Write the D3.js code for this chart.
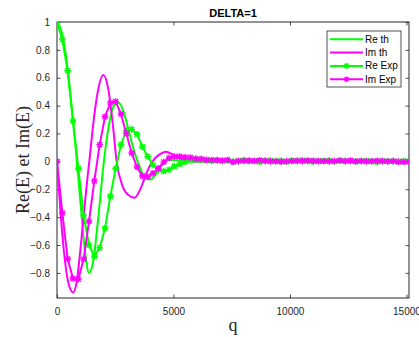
<!DOCTYPE html>
<html><head><meta charset="utf-8">
<script src="https://cdn.jsdelivr.net/npm/d3@7"></script>
<style>
html,body{margin:0;padding:0;background:#fff;}
svg{display:block;}
</style></head>
<body>
<script>
// ---- data ----
const titleText = "DELTA=1";
const xLabel = "q";
const yLabel = "Re(E) et Im(E)";
const seriesNames = ["Re th", "Im th", "Re Exp", "Im Exp"];
const xTicks = [0, 5000, 10000, 15000];
const yTicks = [-0.8, -0.6, -0.4, -0.2, 0, 0.2, 0.4, 0.6, 0.8, 1];

// theory curves (sampled points, smooth)
const qReTh = [0,200,400,600,800,1000,1200,1374,1550,1750,2000,2250,2450,2650,2850,3050,3300,3550,3800,4000,4250,4500,4800,5200,5700,6500,8000,10000,12000,15100];
const reTh  = [1,0.93,0.74,0.44,0.10,-0.28,-0.64,-0.80,-0.72,-0.44,-0.02,0.28,0.40,0.42,0.36,0.24,0.08,-0.04,-0.12,-0.13,-0.09,-0.03,0.01,0.008,0.0,0.0,0.0,0.0,0.0,0.0];
const qImTh = [0,150,300,500,687,850,1000,1150,1300,1400,1550,1750,1990,2200,2400,2560,2800,3050,3330,3600,3850,4100,4400,4680,5000,5400,6000,8000,10000,12000,15100];
const imTh  = [0,-0.36,-0.65,-0.88,-0.94,-0.86,-0.64,-0.38,-0.13,0.02,0.26,0.50,0.62,0.52,0.26,0.0,-0.17,-0.24,-0.26,-0.19,-0.08,0.0,0.05,0.07,0.045,0.015,0.0,0.0,0.0,0.0,0.0];

// experimental data (uniform sample grid)
const qStep = 229;
const reExp = [1.0,0.875,0.65,0.29,-0.05,-0.39,-0.60,-0.68,-0.62,-0.48,-0.25,-0.05,0.12,0.22,0.23,0.195,0.105,0.035,-0.025,-0.06,-0.07,-0.06,-0.035,-0.02,-0.005,0.008,0.012,
  0.01,0.006,0.004,0.008,0.002,0.006,-0.002,0.004,0.009,0.001,0.005,-0.004,0.003,0.007,0.0,0.004,-0.003,0.006,0.002,0.008,0.001,-0.002,0.005,0.003,0.007,-0.001,0.004,0.002,0.006,-0.003,0.003,0.005,0.0,-0.004,0.004,0.002,0.001,-0.002,0.003,0.001];
const imExp = [0,-0.37,-0.70,-0.84,-0.845,-0.70,-0.43,-0.14,0.12,0.32,0.42,0.43,0.34,0.20,0.06,-0.04,-0.105,-0.11,-0.085,-0.05,-0.005,0.025,0.035,0.035,0.03,0.028,0.02,
  0.018,0.012,0.01,0.008,0.006,0.01,-0.004,0.002,0.004,0.006,0.003,0.008,0.004,0.0,0.002,-0.002,0.0,0.003,0.005,0.002,0.006,0.004,0.001,0.003,0.0,0.002,0.006,0.003,0.004,0.001,0.003,0.0,0.002,0.004,0.001,0.0,0.002,-0.002,-0.004,-0.003];

const GREEN = "#00ff00", MAGENTA = "#ff00ff", AX = "#262626";

// ---- layout ----
const W = 419, H = 337;
const L = 57, R = 409, T = 22, B = 298;

const svg = d3.select("body").append("svg").attr("width", W).attr("height", H);
svg.append("rect").attr("width", W).attr("height", H).attr("fill", "#fff");

const x = d3.scaleLinear().domain([0, 15110]).range([L, R]);
const y = d3.scaleLinear().domain([-0.98, 1]).range([B, T]);

svg.append("defs").append("clipPath").attr("id", "clip")
  .append("rect").attr("x", L).attr("y", T).attr("width", R - L).attr("height", B - T);

// axes
const fmt = d => d3.format("")(d);
const tickFont = g => g.selectAll("text").attr("font-family", "'Liberation Sans', Arial, sans-serif").attr("font-size", 10).attr("fill", AX);
const gx = svg.append("g").attr("transform", `translate(0,${B})`)
  .call(d3.axisBottom(x).tickValues(xTicks).tickSize(-3.5).tickPadding(10).tickFormat(fmt));
const gxt = svg.append("g").attr("transform", `translate(0,${T})`)
  .call(d3.axisTop(x).tickValues(xTicks).tickSize(-3.5).tickFormat(""));
const gy = svg.append("g").attr("transform", `translate(${L},0)`)
  .call(d3.axisLeft(y).tickValues(yTicks).tickSize(-3.5).tickPadding(7).tickFormat(fmt));
const gyr = svg.append("g").attr("transform", `translate(${R},0)`)
  .call(d3.axisRight(y).tickValues(yTicks).tickSize(-3.5).tickFormat(""));
[gx, gxt, gy, gyr].forEach(g => {
  g.select(".domain").remove();
  g.selectAll("line").attr("stroke", AX).attr("stroke-width", 0.8);
  tickFont(g);
});
svg.append("rect").attr("x", L).attr("y", T).attr("width", R - L).attr("height", B - T)
  .attr("fill", "none").attr("stroke", AX).attr("stroke-width", 1);

// lines
const plot = svg.append("g").attr("clip-path", "url(#clip)");
const smooth = d3.line().x(d => x(d[0])).y(d => y(d[1])).curve(d3.curveMonotoneX);
const straight = d3.line().x(d => x(d[0])).y(d => y(d[1]));

const reThPts = qReTh.map((q, i) => [q, reTh[i]]);
const imThPts = qImTh.map((q, i) => [q, imTh[i]]);
const reExpPts = reExp.map((v, i) => [i * qStep, v]);
const imExpPts = imExp.map((v, i) => [i * qStep, v]);

plot.append("path").attr("d", smooth(reThPts)).attr("fill", "none").attr("stroke", GREEN).attr("stroke-width", 2);
plot.append("path").attr("d", smooth(imThPts)).attr("fill", "none").attr("stroke", MAGENTA).attr("stroke-width", 2);

const star = (s) => `M${-s},0L${s},0M0,${-s}L0,${s}M${-s*0.75},${-s*0.75}L${s*0.75},${s*0.75}M${-s*0.75},${s*0.75}L${s*0.75},${-s*0.75}`;
const MS = 3.3;

function expSeries(pts, color) {
  plot.append("path").attr("d", straight(pts)).attr("fill", "none").attr("stroke", color).attr("stroke-width", 2);
  plot.append("g").selectAll("path").data(pts).join("path")
    .attr("transform", d => `translate(${x(d[0])},${y(d[1])})`)
    .attr("d", star(MS)).attr("fill", "none").attr("stroke", color).attr("stroke-width", 1.4);
}
expSeries(reExpPts, GREEN);
expSeries(imExpPts, MAGENTA);

// title & labels
svg.append("text").attr("x", (L + R) / 2).attr("y", 17).attr("text-anchor", "middle")
  .attr("font-family", "'Liberation Sans', Arial, sans-serif").attr("font-weight", "bold").attr("font-size", 11)
  .attr("fill", "#000").text(titleText);
svg.append("text").attr("x", (L + R) / 2).attr("y", 331).attr("text-anchor", "middle")
  .attr("font-family", "'Liberation Serif', 'Times New Roman', serif").attr("font-size", 18)
  .attr("fill", AX).text(xLabel);
svg.append("text").attr("transform", `translate(29,${(T + B) / 2}) rotate(-90)`).attr("text-anchor", "middle")
  .attr("font-family", "'Liberation Serif', 'Times New Roman', serif").attr("font-size", 18)
  .attr("fill", AX).text(yLabel);

// legend
const lg = svg.append("g");
lg.append("rect").attr("x", 327).attr("y", 31).attr("width", 74).attr("height", 56)
  .attr("fill", "#fff").attr("stroke", AX).attr("stroke-width", 0.8);
const legColors = [GREEN, MAGENTA, GREEN, MAGENTA];
seriesNames.forEach((name, i) => {
  const yy = 39.3 + i * 13.3;
  lg.append("line").attr("x1", 330).attr("x2", 363).attr("y1", yy).attr("y2", yy)
    .attr("stroke", legColors[i]).attr("stroke-width", 2);
  if (i >= 2) lg.append("path").attr("transform", `translate(346.5,${yy})`).attr("d", star(2.8))
    .attr("fill", "none").attr("stroke", legColors[i]).attr("stroke-width", 1.3);
  lg.append("text").attr("x", 365).attr("y", yy + 3.5)
    .attr("font-family", "'Liberation Sans', Arial, sans-serif").attr("font-size", 10)
    .attr("fill", "#000").text(name);
});
</script>
</body></html>
